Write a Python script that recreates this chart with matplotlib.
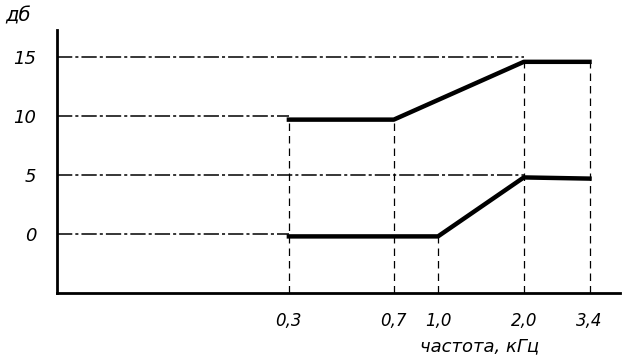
import matplotlib
matplotlib.use("Agg")
import matplotlib.pyplot as plt
from matplotlib.ticker import FixedLocator, NullLocator

# data
freq_ticks = [0.3, 0.7, 1.0, 2.0, 3.4]
freq_labels = ["0,3", "0,7", "1,0", "2,0", "3,4"]
db_ticks = [0, 5, 10, 15]
db_labels = ["0", "5", "10", "15"]

upper_x = [0.3, 0.7, 2.0, 3.4]
upper_y = [9.7, 9.7, 14.6, 14.6]
lower_x = [0.3, 1.0, 2.0, 3.4]
lower_y = [-0.2, -0.2, 4.8, 4.7]

# guide lines: (level, x end)
hguides = [(15, 2.0), (10, 0.3), (5, 2.0), (0, 0.3)]
# vertical guides: (freq, y top)
vguides = [(0.3, 9.7), (0.7, 9.7), (1.0, -0.2), (2.0, 14.6), (3.4, 14.6)]

xmin, xmax = 0.0461, 4.35
ymin, ymax = -5.0, 17.3

fig = plt.figure(figsize=(6.31, 3.63), dpi=100)
ax = fig.add_axes([0.0903, 0.1928, 0.8923, 0.7246])
ax.set_xscale("log")
ax.set_xlim(xmin, xmax)
ax.set_ylim(ymin, ymax)

for lvl, xe in hguides:
    ax.plot([xmin, xe], [lvl, lvl], color="black", lw=1.1,
            linestyle=(0, (10, 2, 2, 2)), solid_capstyle="butt")
for fx, yt in vguides:
    ax.plot([fx, fx], [ymin, yt], color="black", lw=0.9,
            linestyle=(0, (6, 4)))

ax.plot(upper_x, upper_y, color="black", lw=3.2, solid_joinstyle="round")
ax.plot(lower_x, lower_y, color="black", lw=3.2, solid_joinstyle="round")

for s in ["top", "right"]:
    ax.spines[s].set_visible(False)
ax.spines["left"].set_linewidth(2)
ax.spines["bottom"].set_linewidth(2)

ax.xaxis.set_major_locator(FixedLocator(freq_ticks))
ax.xaxis.set_minor_locator(NullLocator())
ax.set_xticklabels(freq_labels, fontstyle="italic", fontsize=12)
ax.yaxis.set_major_locator(FixedLocator(db_ticks))
ax.set_yticklabels(db_labels, fontstyle="italic", fontsize=13)
ax.tick_params(axis="both", length=0)
ax.tick_params(axis="x", pad=14)
ax.tick_params(axis="y", pad=15)

fig.text(0.008, 0.955, "дб", fontstyle="italic", fontsize=14, va="center", ha="left")
fig.text(0.76, 0.045, "частота, кГц", fontstyle="italic", fontsize=13, va="center", ha="center")

fig.savefig("out.png", dpi=100)
